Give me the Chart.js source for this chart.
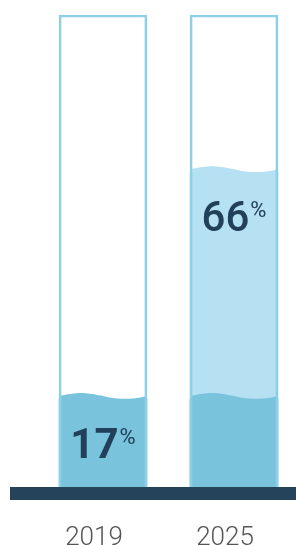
<!DOCTYPE html>
<html>
<head>
<meta charset="utf-8">
<script src="https://cdn.jsdelivr.net/npm/chart.js@4/dist/chart.umd.min.js"></script>
<style>
  html, body { margin: 0; padding: 0; background: #fff; overflow: hidden; }
  #wrap { position: relative; width: 296px; height: 545px; }
</style>
</head>
<body>
<div id="wrap"><canvas id="tubes"></canvas></div>
<script>
// data
var years = ['2019', '2025'];
var capacity = [100, 100];      // full tube
var level2019 = [17, 17];       // darker water, same level in both tubes
var level2025 = [null, 66];     // lighter water, only in 2025
var shownPct = [17, 66];

var Y_MIN = -2;   // tubes sit a bit below zero on the base plate

// wavy top on the water bars
var wavePlugin = {
   id: 'wave',
   afterDatasetDraw: function (chart, args) {
      var ds = chart.data.datasets[args.index];
      if (!ds.wave) return;
      var ctx = chart.ctx;
      args.meta.data.forEach(function (bar, i) {
         if (ds.data[i] == null) return;
         var p = bar.getProps(['x', 'y', 'width'], true);
         var left = p.x - p.width / 2;
         var amp = 3;
         ctx.save();
         ctx.beginPath();
         ctx.moveTo(left, p.y + 1);
         for (var k = 0; k <= 40; k++) {
            var t = k / 40;
            ctx.lineTo(left + t * p.width, p.y - amp - amp * Math.sin(2 * Math.PI * t));
         }
         ctx.lineTo(left + p.width, p.y + 1);
         ctx.closePath();
         ctx.fillStyle = ds.backgroundColor;
         ctx.fill();
         ctx.restore();
      });
   }
};

// base plate + percentage text
var decoPlugin = {
   id: 'deco',
   afterDatasetsDraw: function (chart) {
      var ctx = chart.ctx;
      var area = chart.chartArea;
      var yScale = chart.scales.y;
      ctx.save();
      ctx.fillStyle = '#25435a';
      ctx.fillRect(10, area.bottom, chart.width - 10, 13);

      var weights = ['700', '500'];
      var bars = chart.getDatasetMeta(0).data;
      shownPct.forEach(function (v, i) {
         var top = yScale.getPixelForValue(v) - 3;
         var numFont = weights[i] + ' 42px Roboto';
         var pctFont = '400 22px Roboto';
         ctx.font = numFont;
         var wNum = ctx.measureText(String(v)).width;
         ctx.font = pctFont;
         var wPct = ctx.measureText('%').width;
         var gap = 1;
         var x0 = bars[i].x - (wNum + gap + wPct) / 2;
         ctx.fillStyle = '#22405a';
         ctx.textBaseline = 'alphabetic';
         ctx.textAlign = 'left';
         ctx.font = numFont;
         ctx.fillText(String(v), x0, top + 62);
         ctx.font = pctFont;
         ctx.fillText('%', x0 + wNum + gap, top + 48);
      });
      ctx.restore();
   }
};

var common = { base: Y_MIN, barThickness: 88, grouped: false, clip: false, borderWidth: 0 };

new Chart(document.getElementById('tubes'), {
   type: 'bar',
   data: {
      labels: years,
      datasets: [
         Object.assign({}, common, {
            data: capacity,
            backgroundColor: 'rgba(0,0,0,0)',
            borderColor: '#8dcfe6',
            borderWidth: { top: 2, left: 2, right: 2, bottom: 0 },
            borderSkipped: false
         }),
         Object.assign({}, common, { data: level2019, backgroundColor: '#79c3dc', wave: true }),
         Object.assign({}, common, { data: level2025, backgroundColor: '#b5e1f3', wave: true })
      ]
   },
   options: {
      responsive: true,
      maintainAspectRatio: false,
      animation: false,
      layout: { padding: { left: 103, right: 62, top: 15, bottom: -45 } },
      plugins: { legend: { display: false }, tooltip: { enabled: false } },
      scales: {
         x: {
            offset: false,
            grid: { display: false, drawTicks: false },
            border: { display: false },
            afterFit: function (scale) {
               // labels may hang over the edges, don't let them push the tubes
               scale.paddingLeft = 0;
               scale.paddingRight = 0;
            },
            ticks: {
               color: '#555555',
               font: { family: 'Roboto', size: 26, weight: '300', lineHeight: 1 },
               padding: 38.5,
               labelOffset: -9,
               maxRotation: 0,
               autoSkip: false
            }
         },
         y: { display: false, min: Y_MIN, max: 100 }
      }
   },
   plugins: [wavePlugin, decoPlugin]
});
</script>
</body>
</html>
